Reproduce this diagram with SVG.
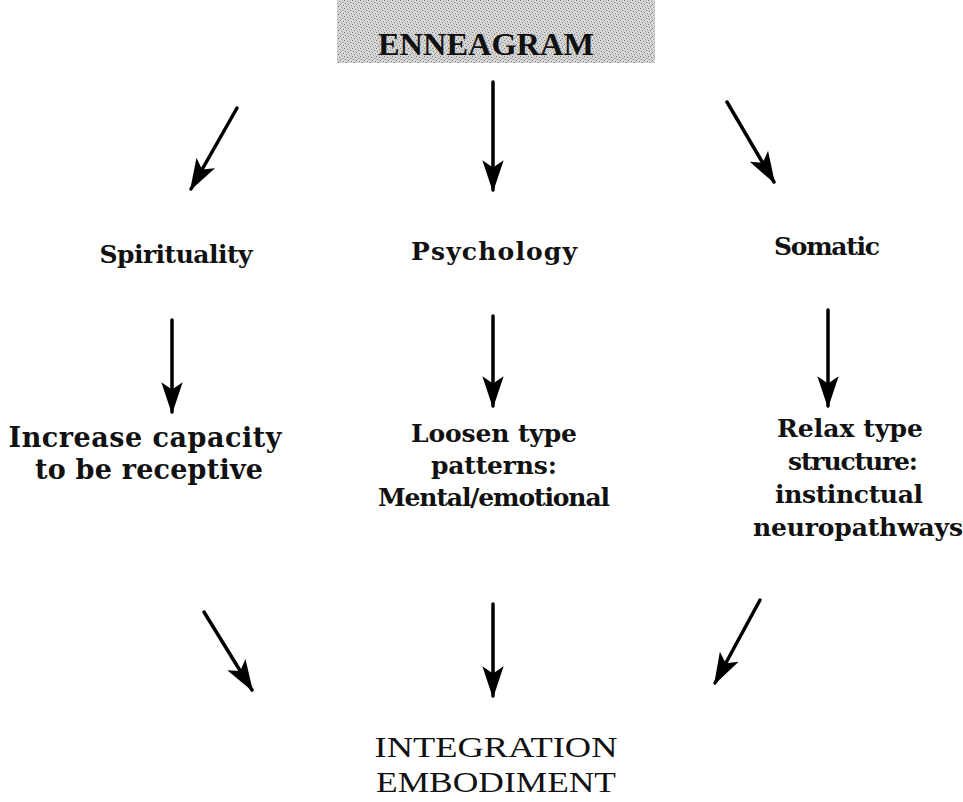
<svg xmlns="http://www.w3.org/2000/svg" width="963" height="802" viewBox="0 0 963 802">
<defs>
<pattern id="grain" width="8" height="8" patternUnits="userSpaceOnUse">
<rect width="8" height="8" fill="#d0d0d0"/>
<rect x="0" y="0" width="1" height="1" fill="#7a7a7a"/>
<rect x="3" y="1" width="1" height="1" fill="#8a8a8a"/>
<rect x="6" y="2" width="1" height="1" fill="#909090"/>
<rect x="1" y="3" width="1" height="1" fill="#959595"/>
<rect x="4" y="4" width="1" height="1" fill="#808080"/>
<rect x="7" y="5" width="1" height="1" fill="#8c8c8c"/>
<rect x="2" y="6" width="1" height="1" fill="#868686"/>
<rect x="5" y="7" width="1" height="1" fill="#999"/>
<rect x="2" y="1" width="1" height="1" fill="#f2f2f2"/>
<rect x="6" y="4" width="1" height="1" fill="#f4f4f4"/>
<rect x="0" y="5" width="1" height="1" fill="#eee"/>
<rect x="4" y="7" width="1" height="1" fill="#f0f0f0"/>
</pattern>
<marker id="ah" viewBox="0 0 30 20" refX="28" refY="10" markerWidth="32" markerHeight="22" markerUnits="userSpaceOnUse" orient="auto">
<path d="M0,0 L30,10 L0,20 L7,10 Z" fill="#000"/>
</marker>
<style>
.lbl{font-family:"DejaVu Serif","Liberation Serif",serif;font-weight:bold;font-size:25px;fill:#111;text-anchor:middle}
.big{font-size:27px}
.cap{font-family:"Liberation Serif",serif;font-size:30px;fill:#111;text-anchor:middle}
.arr{stroke:#000;stroke-width:3.5;fill:none;stroke-linecap:round;marker-end:url(#ah)}
</style>
</defs>
<rect width="963" height="802" fill="#fff"/>
<g id="enneagram">
<rect x="337" y="0" width="318" height="63" fill="url(#grain)"/>
<text x="486" y="55" class="cap" style="font-weight:bold;font-size:31px" textLength="216" lengthAdjust="spacingAndGlyphs">ENNEAGRAM</text>
</g>
<g id="spirituality"><text x="176" y="263" class="lbl" textLength="153">Spirituality</text></g>
<g id="psychology"><text x="494" y="260" class="lbl" textLength="166">Psychology</text></g>
<g id="somatic"><text x="827" y="255" class="lbl" textLength="106">Somatic</text></g>
<g id="receptive">
<text x="145" y="447" class="lbl big" textLength="273">Increase capacity</text>
<text x="149" y="479" class="lbl big" textLength="228">to be receptive</text>
</g>
<g id="loosen">
<text x="494" y="442" class="lbl" textLength="166">Loosen type</text>
<text x="494" y="474" class="lbl" textLength="126">patterns:</text>
<text x="494" y="506" class="lbl" textLength="232">Mental/emotional</text>
</g>
<g id="relax">
<text x="850" y="437" class="lbl" textLength="146">Relax type</text>
<text x="853" y="470" class="lbl" textLength="130">structure:</text>
<text x="849" y="503" class="lbl" textLength="148">instinctual</text>
<text x="858" y="536" class="lbl" textLength="210">neuropathways</text>
</g>
<g id="integration">
<text x="496" y="757" class="cap" textLength="243" lengthAdjust="spacingAndGlyphs">INTEGRATION</text>
<text x="496" y="792" class="cap" textLength="240" lengthAdjust="spacingAndGlyphs">EMBODIMENT</text>
</g>
<g id="connectors">
<line class="arr" x1="237" y1="108" x2="191" y2="189"/>
<line class="arr" x1="493" y1="82" x2="493" y2="190"/>
<line class="arr" x1="727" y1="102" x2="774" y2="182"/>
<line class="arr" x1="172" y1="320" x2="172" y2="412"/>
<line class="arr" x1="493" y1="316" x2="493" y2="406"/>
<line class="arr" x1="828" y1="310" x2="828" y2="406"/>
<line class="arr" x1="204" y1="612" x2="252" y2="690"/>
<line class="arr" x1="493" y1="604" x2="493" y2="696"/>
<line class="arr" x1="760" y1="600" x2="715" y2="683"/>
</g>
</svg>
